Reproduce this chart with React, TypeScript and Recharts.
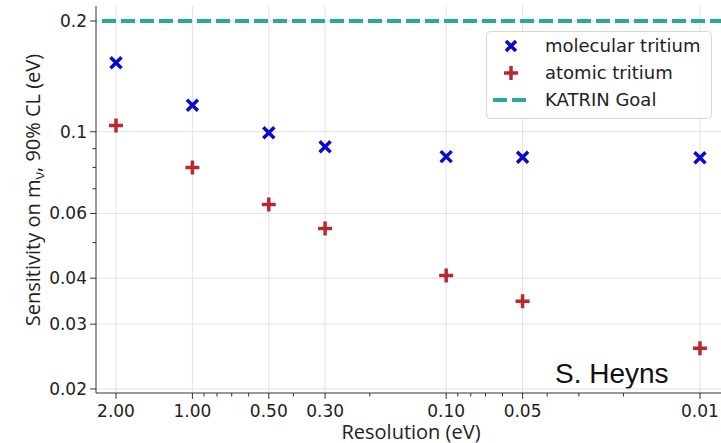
import { ScatterChart, Scatter, XAxis, YAxis, ReferenceLine, Legend, Customized } from "recharts";

// resolution (eV) and sensitivity on m_nu (eV)
const resolution = [2.0, 1.0, 0.5, 0.3, 0.1, 0.05, 0.01];
const molecular = [0.154, 0.118, 0.0994, 0.0911, 0.0856, 0.0853, 0.085];
const atomic = [0.104, 0.08, 0.0634, 0.0546, 0.0407, 0.0346, 0.0258];
const katrinGoal = 0.2;

const seriesNames = ["molecular tritium", "atomic tritium", "KATRIN Goal"];

const xMajor = [2, 1, 0.5, 0.3, 0.1, 0.05, 0.01];
const xMinor = [0.9, 0.8, 0.7, 0.6, 0.4, 0.2, 0.09, 0.08, 0.07, 0.06, 0.04, 0.03, 0.02];
const yMajor = [0.2, 0.1, 0.06, 0.04, 0.03, 0.02];
const yMinor = [0.09, 0.08, 0.07, 0.05];

const xDomain = [0.00804, 2.398];
const yDomain = [0.0195, 0.2197];

const BLUE = "#0a0acc";
const RED = "#b8292f";
const TEAL = "#2ca89a";
const AXIS = "#333";
const GRID = "#e2e2e2";

const molecularData = resolution.map((x, i) => ({ x, y: molecular[i] }));
const atomicData = resolution.map((x, i) => ({ x, y: atomic[i] }));
const goalData = xDomain.map((x) => ({ x, y: katrinGoal }));

function XMark({ cx, cy }: any) {
  const r = 5.5;
  return (
    <path
      d={`M${cx - r},${cy - r}L${cx + r},${cy + r}M${cx - r},${cy + r}L${cx + r},${cy - r}`}
      stroke={BLUE}
      strokeWidth={3.5}
    />
  );
}

function PlusMark({ cx, cy }: any) {
  const r = 7;
  return (
    <path d={`M${cx - r},${cy}L${cx + r},${cy}M${cx},${cy - r}L${cx},${cy + r}`} stroke={RED} strokeWidth={3.5} />
  );
}

function XTick({ x, y, payload }: any) {
  const major = xMajor.includes(payload.value);
  return (
    <g>
      <line x1={x} x2={x} y1={y} y2={y + (major ? 6 : 3.5)} stroke={AXIS} />
      {major && (
        <text x={x} y={y + 24} textAnchor="middle" fontFamily="DejaVu Sans" fontSize={17} fill="#222">
          {payload.value.toFixed(2)}
        </text>
      )}
    </g>
  );
}

function YTick({ x, y, payload }: any) {
  const major = yMajor.includes(payload.value);
  return (
    <g>
      <line x1={x} x2={x - (major ? 6 : 3.5)} y1={y} y2={y} stroke={AXIS} />
      {major && (
        <text x={x - 9} y={y + 6} textAnchor="end" fontFamily="DejaVu Sans" fontSize={17} fill="#222">
          {String(payload.value)}
        </text>
      )}
    </g>
  );
}

const legendIcons: Record<string, any> = {
  "molecular tritium": <path d="M20,10L30,20M20,20L30,10" stroke={BLUE} strokeWidth={3.5} />,
  "atomic tritium": <path d="M18,15L32,15M25,8L25,22" stroke={RED} strokeWidth={3.5} />,
  "KATRIN Goal": <path d="M7,15L21,15M26,15L40,15" stroke={TEAL} strokeWidth={4} />,
};

function LegendBox({ payload }: any) {
  const items = [...(payload || [])].sort(
    (a: any, b: any) => seriesNames.indexOf(a.value) - seriesNames.indexOf(b.value)
  );
  return (
    <svg width={226} height={88} style={{ display: "block" }}>
      <rect x={0.5} y={0.5} width={225} height={87} rx={4} fill="rgba(255,255,255,0.85)" stroke="#d6d6d6" />
      {items.map((p: any, i: number) => (
        <g key={p.value} transform={`translate(0, ${i * 27})`}>
          {legendIcons[p.value]}
          <text x={59} y={21} fontFamily="DejaVu Sans" fontSize={18} fill="#222">
            {p.value}
          </text>
        </g>
      ))}
    </svg>
  );
}

function Titles() {
  return (
    <g>
      <text x={411} y={439} textAnchor="middle" fontFamily="Open Sans" fontSize={20} fill="#222">
        Resolution (eV)
      </text>
      <text
        x={40}
        y={190}
        transform="rotate(-90, 40, 190)"
        textAnchor="middle"
        fontFamily="Open Sans"
        fontSize={20}
        fill="#222"
      >
        Sensitivity on m
        <tspan dy={4} fontSize={14}>
          ν
        </tspan>
        <tspan dy={-4}>, 90% CL (eV)</tspan>
      </text>
      <text x={555} y={383} fontFamily="Liberation Sans" fontSize={28} fill="#111">
        S. Heyns
      </text>
    </g>
  );
}

export default function App() {
  return (
    <div style={{ width: 721, height: 443, overflow: "hidden", position: "relative", background: "#fff" }}>
      <style>{"body{margin:0}"}</style>
      <ScatterChart width={730} height={443} margin={{ top: 6, right: 6, bottom: 0, left: 0 }}>
        <XAxis
          xAxisId="top"
          orientation="top"
          type="number"
          dataKey="x"
          scale="log"
          domain={xDomain}
          allowDataOverflow
          reversed
          height={0}
          tick={false}
          tickLine={false}
          axisLine={{ stroke: AXIS }}
        />
        <XAxis
          type="number"
          dataKey="x"
          scale="log"
          domain={xDomain}
          allowDataOverflow
          reversed
          ticks={[...xMajor, ...xMinor]}
          interval={0}
          height={50}
          tickSize={0}
          tickMargin={0}
          tickLine={false}
          tick={<XTick />}
          axisLine={{ stroke: AXIS }}
        />
        <YAxis
          type="number"
          dataKey="y"
          scale="log"
          domain={yDomain}
          allowDataOverflow
          ticks={[...yMajor, ...yMinor]}
          interval={0}
          width={96}
          tickSize={0}
          tickMargin={0}
          tickLine={false}
          tick={<YTick />}
          axisLine={{ stroke: AXIS }}
        />
        {xMajor.map((v) => (
          <ReferenceLine key={"gx" + v} x={v} stroke={GRID} />
        ))}
        {yMajor.map((v) => (
          <ReferenceLine key={"gy" + v} y={v} stroke={GRID} />
        ))}
        <Scatter name={seriesNames[0]} data={molecularData} shape={<XMark />} isAnimationActive={false} />
        <Scatter name={seriesNames[1]} data={atomicData} shape={<PlusMark />} isAnimationActive={false} />
        <Scatter
          name={seriesNames[2]}
          data={goalData}
          line={{ stroke: TEAL, strokeWidth: 4, strokeDasharray: "14 5" }}
          lineType="joint"
          shape={() => <g />}
          isAnimationActive={false}
        />
        <Legend
          layout="vertical"
          align="center"
          verticalAlign="middle"
          wrapperStyle={{ left: 486, top: 31, width: 226, height: 88 }}
          content={<LegendBox />}
        />
        <Customized component={<Titles />} />
      </ScatterChart>
    </div>
  );
}
